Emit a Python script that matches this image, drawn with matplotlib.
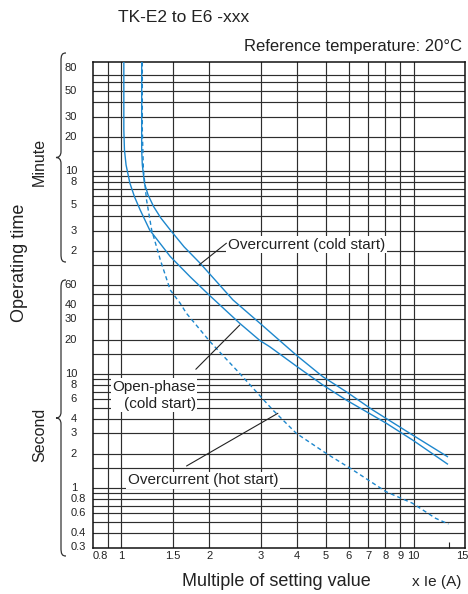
import matplotlib
matplotlib.use('Agg')
import matplotlib.pyplot as plt
from matplotlib.path import Path
from matplotlib.patches import PathPatch
from matplotlib.ticker import NullLocator
import matplotlib.transforms as mtransforms

plt.rcParams['font.family'] = ['Liberation Sans', 'DejaVu Sans']

# ---------------- data ----------------
# multiples of setting value (x Ie) and operating times (seconds)
open_phase_x = [1.02, 1.02, 1.025, 1.038, 1.07, 1.11, 1.16, 1.25, 1.47, 1.72, 2.0, 2.54, 2.98, 3.22, 3.97, 4.89, 5.88, 8.05, 9.92, 13.06]
open_phase_t = [5400, 1380, 920, 680, 470, 356, 274, 183, 107, 71, 49, 27.8, 19.6, 17.3, 11.7, 8.0, 5.9, 3.7, 2.63, 1.62]

cold_x = [1.174, 1.174, 1.18, 1.20, 1.235, 1.29, 1.365, 1.47, 1.64, 1.86, 2.41, 2.98, 3.97, 4.89, 5.88, 7.25, 9.92, 13.06]
cold_t = [5400, 920, 680, 470, 370, 293, 233, 183, 130, 93.4, 44.5, 27.8, 14.6, 9.45, 6.98, 4.82, 2.91, 1.88]

hot_x = [1.18, 1.18, 1.19, 1.22, 1.27, 1.36, 1.47, 1.59, 1.67, 2.01, 2.54, 3.30, 3.97, 5.02, 6.19, 8.05, 9.92, 11.9, 13.17]
hot_t = [5400, 1378, 614, 335, 183, 99.8, 54.4, 41.6, 34.0, 19.2, 10.1, 4.82, 3.01, 2.01, 1.44, 0.926, 0.733, 0.541, 0.482]

x_tick_vals = [0.8, 1, 1.5, 2, 3, 4, 5, 6, 7, 8, 9, 10, 15]
x_tick_labels = ['0.8', '1', '1.5', '2', '3', '4', '5', '6', '7', '8', '9', '10', '15']
x_grid = [0.9, 1, 1.5, 2, 3, 4, 5, 6, 7, 8, 9, 10]

minute_vals = [80, 50, 30, 20, 10, 8, 5, 3, 2]
minute_labels = ['80', '50', '30', '20', '10', '8', '5', '3', '2']
second_vals = [60, 40, 30, 20, 10, 8, 6, 4, 3, 2, 1, 0.8, 0.6, 0.4, 0.3]
second_labels = ['60', '40', '30', '20', '10', '8', '6', '4', '3', '2', '1', '0.8', '0.6', '0.4', '0.3']

grid_minutes = [70, 60, 50, 40, 30, 20, 15, 10, 9, 8, 7, 6, 5, 4, 3, 2, 1.5]
grid_seconds = [60, 50, 40, 30, 20, 15, 10, 9, 8, 7, 6, 5, 4, 3, 2, 1.5, 1, 0.9, 0.8, 0.7, 0.6, 0.5, 0.4]

# ---------------- figure ----------------
W, H = 468, 594
fig = plt.figure(figsize=(W / 100, H / 100), dpi=100)
ax = fig.add_axes([93 / W, 46.5 / H, 372 / W, 485.2 / H])
ax.set_xscale('log')
ax.set_yscale('log')
ax.set_xlim(0.8, 15)
ax.set_ylim(0.3, 5400)
ax.xaxis.set_minor_locator(NullLocator())
ax.yaxis.set_minor_locator(NullLocator())
ax.set_yticks([])
ax.set_xticks([13.2])
ax.tick_params(axis='x', direction='in', length=4, width=0.8, labelbottom=False, color='#222222')

gcol = '#2e2e2e'
for v in x_grid:
    ax.axvline(v, color=gcol, lw=0.85, zorder=1)
for m in grid_minutes:
    ax.axhline(m * 60, color=gcol, lw=0.85, zorder=1)
for s in grid_seconds:
    ax.axhline(s, color=gcol, lw=0.85, zorder=1)

for sp in ax.spines.values():
    sp.set_linewidth(1.1)
    sp.set_color('#111111')

blue = '#1d87cd'
ax.plot(open_phase_x, open_phase_t, color=blue, lw=1.0, zorder=3, solid_joinstyle='round')
ax.plot(cold_x, cold_t, color=blue, lw=1.0, zorder=3, solid_joinstyle='round')
ax.plot(hot_x, hot_t, color=blue, lw=1.0, ls=(0, (3, 2.2)), zorder=3)

# y tick labels
ytr = mtransforms.blended_transform_factory(ax.transAxes, ax.transData)
tcol = '#222222'
for v, lab in zip(minute_vals, minute_labels):
    ax.text(-0.043, v * 60, lab, transform=ytr, ha='right', va='center', fontsize=8, color=tcol)
for v, lab in zip(second_vals, second_labels):
    if lab.startswith('0.'):
        ax.text(-0.0188, v, lab, transform=ytr, ha='right', va='center', fontsize=8, color=tcol)
    else:
        ax.text(-0.043, v, lab, transform=ytr, ha='right', va='center', fontsize=8, color=tcol)

# x tick labels
xtr = mtransforms.blended_transform_factory(ax.transData, ax.transAxes)
for v, lab in zip(x_tick_vals, x_tick_labels):
    if lab == '0.8':
        ha = 'left'
    elif lab == '15':
        ha = 'right'
    else:
        ha = 'center'
    xx = v * 1.025 if lab == '15' else v
    ax.text(xx, -0.017, lab, transform=xtr, ha=ha, va='center', fontsize=8, color=tcol, clip_on=False)

# annotations
box = dict(boxstyle='square,pad=0.1', facecolor='white', edgecolor='none')
ax.text(4.30, 135, 'Overcurrent (cold start)', ha='center', va='center', fontsize=11, color=tcol, bbox=box, zorder=4)
ax.annotate('', xy=(1.846, 90.2), xytext=(2.289, 139.9),
            arrowprops=dict(arrowstyle='-', lw=0.8, color=tcol, shrinkA=0, shrinkB=0), zorder=4)

ax.text(1.80, 6.49, 'Open-phase\n(cold start)', ha='right', va='center', multialignment='right',
        linespacing=1.25, fontsize=11, color=tcol, bbox=box, zorder=4)
ax.annotate('', xy=(2.542, 26.8), xytext=(1.799, 10.97),
            arrowprops=dict(arrowstyle='-', lw=0.8, color=tcol, shrinkA=0, shrinkB=0), zorder=4)

ax.text(1.906, 1.17, 'Overcurrent (hot start)', ha='center', va='center', fontsize=11, color=tcol, bbox=box, zorder=4)
ax.annotate('', xy=(3.434, 4.51), xytext=(1.672, 1.556),
            arrowprops=dict(arrowstyle='-', lw=0.8, color=tcol, shrinkA=0, shrinkB=0), zorder=4)

# figure texts (pixel positions converted to figure fraction)
def fp(x, y):
    return x / W, 1 - y / H

fig.text(*fp(118, 17), 'TK-E2 to E6 -xxx', ha='left', va='center', fontsize=12.5, color=tcol)
fig.text(*fp(462, 47), 'Reference temperature: 20°C', ha='right', va='center', fontsize=12, color=tcol)
fig.text(*fp(20, 263), 'Operating time', ha='center', va='center', rotation=90, fontsize=13, color=tcol)
fig.text(*fp(39.5, 162), 'Minute', ha='center', va='center', rotation=90, fontsize=11.5, color=tcol)
fig.text(*fp(39.5, 435), 'Second', ha='center', va='center', rotation=90, fontsize=11.5, color=tcol)
fig.text(*fp(276.7, 581), 'Multiple of setting value', ha='center', va='center', fontsize=13, color=tcol)
fig.text(*fp(437, 582), 'x Ie (A)', ha='center', va='center', fontsize=11, color=tcol)

# curly braces
def brace(ytop, ybot, xr=66, xm=61, xt=56):
    ymid = (ytop + ybot) / 2
    pts = [
        (xr, ytop), (xm + 1, ytop), (xm, ytop + 2), (xm, ytop + 8),
        (xm, ymid - 6),
        (xm, ymid - 2), (xm - 2, ymid), (xt, ymid),
        (xm - 2, ymid), (xm, ymid + 2), (xm, ymid + 6),
        (xm, ybot - 8),
        (xm, ybot - 2), (xm + 1, ybot), (xr, ybot),
    ]
    codes = [Path.MOVETO, Path.CURVE4, Path.CURVE4, Path.CURVE4,
             Path.LINETO,
             Path.CURVE4, Path.CURVE4, Path.CURVE4,
             Path.CURVE4, Path.CURVE4, Path.CURVE4,
             Path.LINETO,
             Path.CURVE4, Path.CURVE4, Path.CURVE4]
    path = Path([fp(x, y) for x, y in pts], codes)
    fig.add_artist(PathPatch(path, transform=fig.transFigure, fill=False, lw=0.9, edgecolor='#333333'))

brace(53, 262)
brace(280, 556)

fig.savefig('out.png', dpi=100)
